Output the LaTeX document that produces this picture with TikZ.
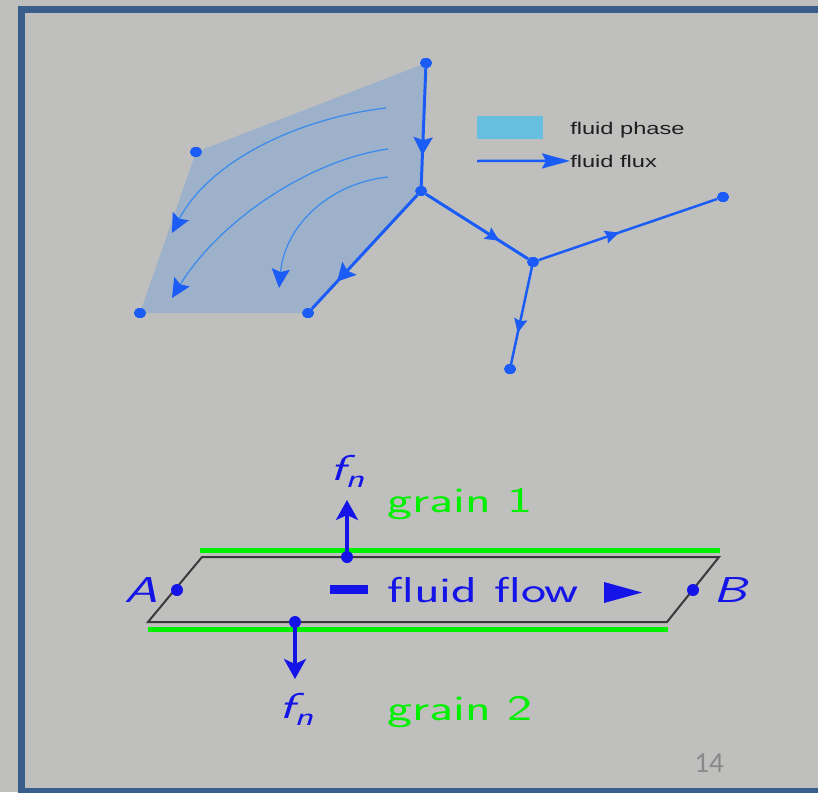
\documentclass[tikz,border=0pt]{standalone}
\usepackage{fontspec}
\newfontfamily\legfont{Liberation Sans}
\newfontfamily\pgfont{Carlito}
\usetikzlibrary{arrows.meta,decorations.markings,shapes.geometric}
\definecolor{bgc}{RGB}{191,192,190}
\definecolor{framec}{RGB}{58,94,140}
\definecolor{phasec}{RGB}{158,177,202}
\definecolor{flowblue}{RGB}{26,92,245}
\definecolor{curveblue}{RGB}{60,140,235}
\definecolor{legrectc}{RGB}{102,191,223}
\definecolor{legtext}{RGB}{30,30,30}
\definecolor{bblue}{RGB}{20,20,232}
\definecolor{bgreen}{RGB}{0,240,0}
\definecolor{pgray}{RGB}{136,136,136}
\definecolor{pline}{RGB}{58,58,58}
\tikzset{
  gdot/.style={ellipse,fill=flowblue,inner sep=0pt,minimum width=12pt,minimum height=10pt},
  bdot/.style={circle,fill=bblue,inner sep=0pt,minimum size=12pt},
  edgeline/.style={draw=flowblue,line width=3pt},
  bigtip/.style={postaction={decorate},decoration={markings,mark=at position #1 with {\arrow{Stealth[length=18pt,width=19pt,inset=3pt,color=flowblue]}}}},
  smalltip/.style={postaction={decorate},decoration={markings,mark=at position #1 with {\arrow{Stealth[length=14pt,width=13pt,inset=2pt,color=flowblue]}}}},
  curvearrow/.style={draw=curveblue,line width=1.3pt,-{Stealth[length=19pt,width=18pt,inset=3pt,color=flowblue]}},
  legtxt/.style={font=\legfont\fontsize{17}{20}\selectfont,text=legtext,anchor=base west,xscale=1.39,inner sep=0pt},
  bigtxt/.style={font=\sffamily\fontsize{36}{40}\selectfont,anchor=base west,xscale=1.48,inner sep=0pt},
  forcearrow/.style={draw=bblue,line width=3.5pt,-{Stealth[length=20pt,width=22pt,inset=5pt]}},
}
\begin{document}
\begin{tikzpicture}[x=1pt,y=-1pt]
\useasboundingbox (0,0) rectangle (818,792);
\fill[bgc] (0,0) rectangle (818,792);
\draw[framec,line width=7pt] (21,10) rectangle (830,791);

% ---------- top graph ----------
\node[gdot] (p1) at (426,63) {};
\node[gdot] (p2) at (196,152) {};
\node[gdot] (p3) at (140,313) {};
\node[gdot] (p4) at (308,313) {};
\node[gdot] (p5) at (421,191) {};
\node[gdot] (p6) at (533,262) {};
\node[gdot] (p7) at (723,197) {};
\node[gdot] (p8) at (510,369) {};

\fill[phasec] (p1.center) -- (p2.center) -- (p3.center) -- (p4.center) -- (p5.center) -- cycle;
\foreach \c in {{196,152},{140,313}} {\fill[flowblue] (\c) ellipse (6pt and 5pt);}

\draw[curvearrow] (386,108) .. controls (300,118) and (210,160) .. (172,233);
\draw[curvearrow] (388,149) .. controls (310,160) and (220,220) .. (172,298);
\draw[curvearrow] (388,177) .. controls (330,183) and (285,225) .. (279,288);

\draw[edgeline,bigtip=0.74] (p1) -- (p5);
\draw[edgeline,bigtip=0.76] (p5) -- (p4);
\draw[edgeline,smalltip=0.72] (p5) -- (p6);
\draw[edgeline,line width=2.5pt,smalltip=0.45] (p6) -- (p7);
\draw[edgeline,line width=2.5pt,smalltip=0.68] (p6) -- (p8);
\foreach \c in {{426,63},{308,313},{421,191},{533,262},{723,197},{510,369}} {\fill[flowblue] (\c) ellipse (6pt and 5pt);}

% legend
\node[fill=legrectc,minimum width=66pt,minimum height=23pt,inner sep=0pt] (legrect) at (510,127.5) {};
\node[legtxt] (legphase) at (570,134) {fluid phase};
\coordinate (la) at (477,161);
\node[legtxt] (legflux) at (570,167) {fluid flux};
\draw[draw=flowblue,line width=2.5pt,-{Stealth[length=28pt,width=15pt,inset=4pt,color=flowblue]}] (la) -- (legflux.west);

% ---------- bottom figure ----------
\draw[bgreen,line width=5pt] (200,550) -- (720,550);
\draw[bgreen,line width=5pt] (148,629) -- (668,629);
\draw[pline,line width=2pt] (202,557) -- (719,557) -- (667,622) -- (148,622) -- cycle;

\node[bdot] (top) at (347,557) {};
\node[bdot] (bot) at (295,622) {};
\node[bdot] (dA) at (177,590) {};
\node[bdot] (dB) at (693,590) {};
\coordinate (toptip) at (347,500);
\coordinate (bottip) at (295,679);
\draw[forcearrow] (top) -- (toptip);
\draw[forcearrow] (bot) -- (bottip);

\node[bigtxt,text=bblue,anchor=base] (fn1) at (347,480) {\itshape f\raisebox{-0.22em}{\fontsize{26}{30}\selectfont n}};
\node[bigtxt,text=bblue,anchor=base] (fn2) at (296,718) {\itshape f\raisebox{-0.22em}{\fontsize{26}{30}\selectfont n}};
\node[bigtxt,text=bgreen] (g1) at (387,512) {grain 1};
\node[bigtxt,text=bgreen] (g2) at (387,720) {grain 2};
\node[bigtxt,text=bblue,anchor=base east] (lA) at (158,602) {\itshape A};
\node[bigtxt,text=bblue] (lB) at (713,602) {\itshape B};
\node[bigtxt,text=bblue] (ff) at (387,602) {fluid flow};
\fill[bblue] (330,585) rectangle (368,594);
\fill[bblue] (604,582) -- (642,592.5) -- (604,603) -- cycle;

\node[font=\pgfont\fontsize{29}{32}\selectfont,text=pgray,anchor=base] (pg) at (709,772) {14};
\end{tikzpicture}
\end{document}
